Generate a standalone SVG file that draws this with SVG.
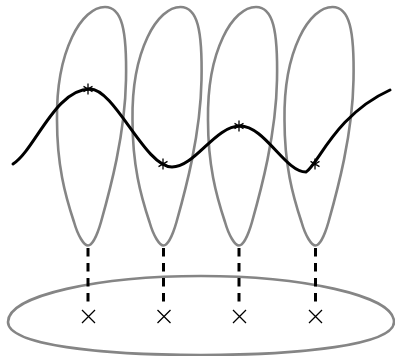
<svg xmlns="http://www.w3.org/2000/svg" width="395" height="356" viewBox="0 0 395 356">
<style>
.loop{fill:none;stroke:#858585;stroke-width:2.6;stroke-linejoin:round}
.curve{fill:none;stroke:#000;stroke-width:3;stroke-linecap:round}
.dash{stroke:#000;stroke-width:3;stroke-dasharray:8.5 6.5}
.mark{stroke:#000;stroke-width:1.3;fill:none}
</style>
<defs>
<path id="loopShape" d="M88,245.5 C84,245.5 78,236 74,222 C65,195 57,165 57,120 C56,50 82,7 105,7 C122,7 127,30 126,80 C125,135 110,190 101,222 C97,236 92,245.5 88,245.5 Z"/>
<g id="star"><path d="M0,-5.5V5.5M-4.5,-2.6L4.5,2.6M-4.5,2.6L4.5,-2.6"/></g>
<g id="cross"><path d="M-6.5,-6.5L6.5,6.5M-6.5,6.5L6.5,-6.5"/></g>
</defs>
<g id="base">
<path class="loop" d="M8,322 C8,295 100,276 201,276 C300,276 394,295 394,322 C394,345 300,355 201,355 C100,355 8,345 8,322 Z"/>
</g>
<g id="loop1"><use href="#loopShape" class="loop"/></g>
<g id="loop2"><use href="#loopShape" class="loop" transform="translate(75.5,0)"/></g>
<g id="loop3"><use href="#loopShape" class="loop" transform="translate(151,0)"/></g>
<g id="loop4"><use href="#loopShape" class="loop" transform="translate(227.5,0)"/></g>
<g id="connectors">
<line class="dash" x1="88" y1="248" x2="88" y2="305"/>
<line class="dash" x1="163.5" y1="248" x2="163.5" y2="305"/>
<line class="dash" x1="239" y1="248" x2="239" y2="305"/>
<line class="dash" x1="315.5" y1="248" x2="315.5" y2="305"/>
</g>
<g id="section">
<path class="curve" d="M13,164 C35,150 55,89 90,89 C115,89 145,167 172,167 C195,167 215,126 240,126 C265,126 285,172 306,172 C318,165 335,115 390,90"/>
</g>
<g id="stars" class="mark">
<use href="#star" x="88" y="89"/>
<use href="#star" x="163" y="164"/>
<use href="#star" x="239" y="126"/>
<use href="#star" x="315" y="164"/>
</g>
<g id="crosses" class="mark">
<use href="#cross" x="88.5" y="316.5"/>
<use href="#cross" x="164" y="316.5"/>
<use href="#cross" x="239.5" y="316.5"/>
<use href="#cross" x="315.5" y="316.5"/>
</g>
</svg>
